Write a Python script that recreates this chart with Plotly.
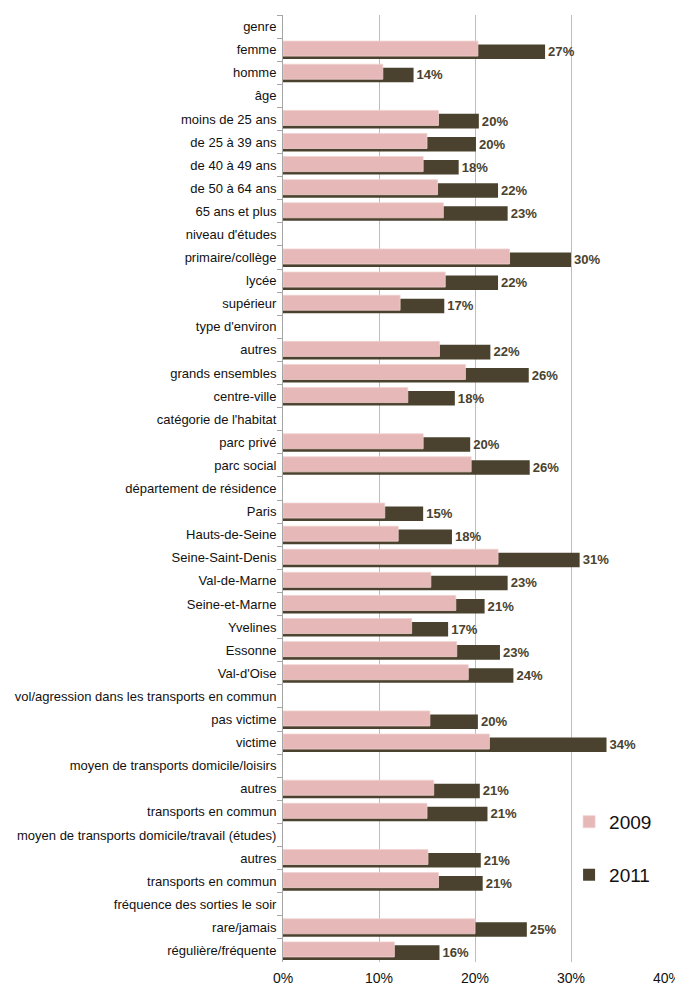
import plotly.graph_objects as go

# ---- data ----
categories = [
    "genre", "femme", "homme",
    "âge", "moins de 25 ans", "de 25 à 39 ans", "de 40 à 49 ans", "de 50 à 64 ans", "65 ans et plus",
    "niveau d'études", "primaire/collège", "lycée", "supérieur",
    "type d'environ", "autres", "grands ensembles", "centre-ville",
    "catégorie de l'habitat", "parc privé", "parc social",
    "département de résidence", "Paris", "Hauts-de-Seine", "Seine-Saint-Denis", "Val-de-Marne",
    "Seine-et-Marne", "Yvelines", "Essonne", "Val-d'Oise",
    "vol/agression dans les transports en commun", "pas victime", "victime",
    "moyen de transports domicile/loisirs", "autres\u200b", "transports en commun",
    "moyen de transports domicile/travail (études)", "autres\u200b\u200b", "transports en commun\u200b",
    "fréquence des sorties le soir", "rare/jamais", "régulière/fréquente",
]

values_2009 = [
    None, 20.3, 10.4,
    None, 16.2, 15.0, 14.6, 16.1, 16.7,
    None, 23.6, 16.9, 12.2,
    None, 16.3, 19.0, 13.0,
    None, 14.6, 19.6,
    None, 10.6, 12.0, 22.4, 15.4, 18.0, 13.4, 18.1, 19.3,
    None, 15.3, 21.5,
    None, 15.7, 15.0,
    None, 15.1, 16.2,
    None, 20.0, 11.6,
]

values_2011 = [
    None, 27.3, 13.6,
    None, 20.4, 20.1, 18.3, 22.4, 23.4,
    None, 30.0, 22.4, 16.8,
    None, 21.6, 25.6, 17.9,
    None, 19.5, 25.7,
    None, 14.6, 17.6, 30.9, 23.4, 21.0, 17.2, 22.6, 24.0,
    None, 20.3, 33.7,
    None, 20.5, 21.3,
    None, 20.6, 20.8,
    None, 25.4, 16.3,
]

labels_2011 = [
    "", "27%", "14%",
    "", "20%", "20%", "18%", "22%", "23%",
    "", "30%", "22%", "17%",
    "", "22%", "26%", "18%",
    "", "20%", "26%",
    "", "15%", "18%", "31%", "23%", "21%", "17%", "23%", "24%",
    "", "20%", "34%",
    "", "21%", "21%",
    "", "21%", "21%",
    "", "25%", "16%",
]

x_ticks = [0, 10, 20, 30, 40]
x_tick_labels = ["0%", "10%", "20%", "30%", "40%"]

FONT = "Liberation Sans, Arial, sans-serif"
PINK = "#e6b8b7"
DARK = "#4a422e"

fig = go.Figure()

fig.add_trace(go.Bar(
    name="2011", y=categories, x=values_2011, orientation="h",
    marker=dict(color=DARK, line=dict(width=0)),
    width=0.63, offset=-0.22,
    text=labels_2011, textposition="outside",
    textfont=dict(family=FONT, size=13.5, color=DARK, weight="bold"),
    cliponaxis=False,
    legend="legend2",
))

fig.add_trace(go.Bar(
    name="2009", y=categories, x=values_2009, orientation="h",
    marker=dict(color=PINK, line=dict(color="#f0d2d1", width=0.8)),
    width=0.65, offset=-0.37,
    legend="legend",
))

fig.update_layout(
    width=675, height=984,
    margin=dict(l=275, r=16, t=7, b=30),
    paper_bgcolor="white", plot_bgcolor="white",
    barmode="overlay",
    font=dict(family=FONT, size=13, color="#111111"),
    showlegend=True,
    legend=dict(x=0.745, y=0.148, xanchor="left", yanchor="middle",
                font=dict(family=FONT, size=19, color="#111111"),
                bgcolor="rgba(0,0,0,0)"),
    legend2=dict(x=0.745, y=0.092, xanchor="left", yanchor="middle",
                 font=dict(family=FONT, size=19, color="#111111"),
                 bgcolor="rgba(0,0,0,0)"),
    xaxis=dict(
        range=[0, 40], tickvals=x_ticks, ticktext=x_tick_labels,
        showgrid=True, gridcolor="#bdbdbd", gridwidth=1,
        zeroline=False, showline=False, ticks="",
        tickfont=dict(family=FONT, size=14, color="#111111"),
        ticklabelstandoff=6,
        automargin=False, fixedrange=True,
    ),
    yaxis=dict(
        type="category", categoryorder="array", categoryarray=categories,
        autorange="reversed",
        showline=True, linecolor="#a6a6a6", linewidth=1,
        ticks="outside", ticklen=5, tickcolor="#a6a6a6", tickson="boundaries",
        showgrid=False, automargin=False,
        tickfont=dict(family=FONT, size=13, color="#111111"),
        ticklabelstandoff=3,
    ),
)

fig.write_html("out.html")
